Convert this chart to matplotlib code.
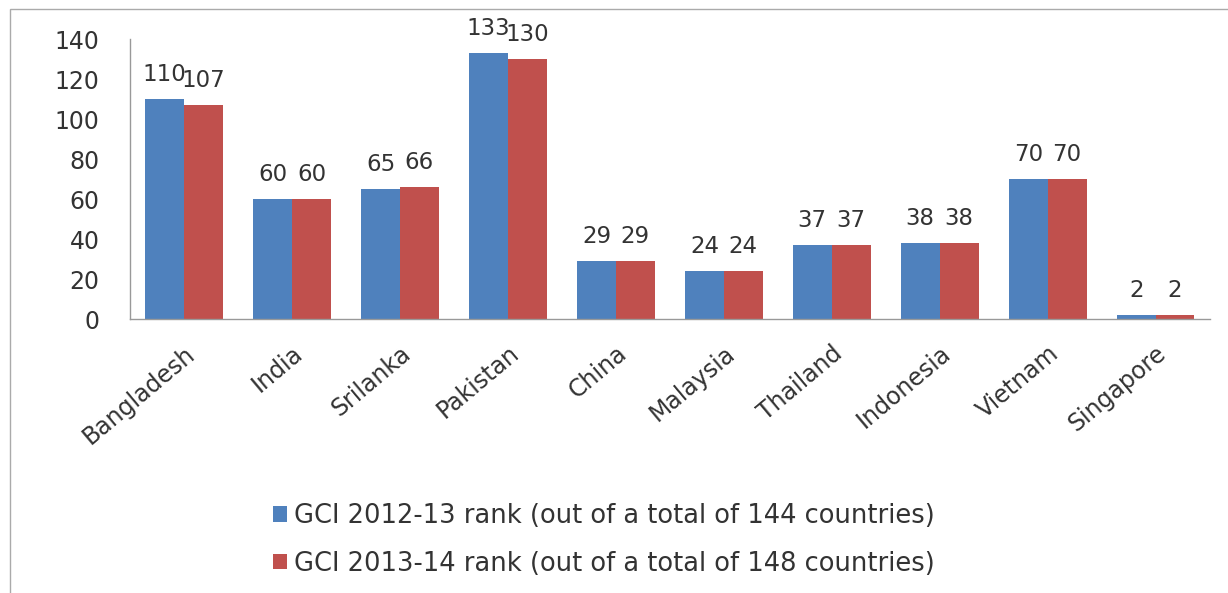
import matplotlib.pyplot as plt
import numpy as np
from matplotlib.patches import Rectangle

countries = ["Bangladesh", "India", "Srilanka", "Pakistan", "China",
             "Malaysia", "Thailand", "Indonesia", "Vietnam", "Singapore"]
rank_2012 = [110, 60, 65, 133, 29, 24, 37, 38, 70, 2]
rank_2013 = [107, 60, 66, 130, 29, 24, 37, 38, 70, 2]
series_names = ["GCI 2012-13 rank (out of a total of 144 countries)",
                "GCI 2013-14 rank (out of a total of 148 countries)"]
colors = ["#4F81BD", "#C0504D"]

plt.rcParams['font.family'] = ['DejaVu Sans']

fig = plt.figure(figsize=(12.28, 5.93), dpi=100)
ax = fig.add_axes([0.106, 0.462, 0.879, 0.472])

x = np.arange(len(countries))
w = 0.36
for vals, off, c, name in zip([rank_2012, rank_2013], [-w / 2, w / 2], colors, series_names):
    bars = ax.bar(x + off, vals, w, color=c, label=name)
    for b, v in zip(bars, vals):
        ax.annotate(str(v), (b.get_x() + b.get_width() / 2, v), xytext=(0, 13),
                    textcoords="offset points", ha="center", va="baseline",
                    fontsize=16.5, color="#333333")

ax.set_xlim(-0.5, len(countries) - 0.5)
ax.set_ylim(0, 140)
ax.set_yticks(range(0, 141, 20))
ax.tick_params(axis="y", length=0, labelsize=17, pad=22, labelcolor="#333333")
ax.tick_params(axis="x", length=0, labelsize=17, pad=16, labelcolor="#333333")
ax.set_xticks(x)
ax.set_xticklabels(countries, rotation=40, ha="right", rotation_mode="anchor")
for s in ["top", "right"]:
    ax.spines[s].set_visible(False)
for s in ["left", "bottom"]:
    ax.spines[s].set_color("#999999")
    ax.spines[s].set_linewidth(1)

leg = fig.legend(loc="upper left", bbox_to_anchor=(0.222, 0.152), ncol=1, frameon=False,
                 fontsize=18.5, handlelength=0.55, handleheight=0.55, handletextpad=0.3,
                 labelspacing=0.85, borderaxespad=0, borderpad=0)
for t in leg.get_texts():
    t.set_color("#333333")

fig.patches.append(Rectangle((0.008, -0.01), 1.1, 0.994, transform=fig.transFigure,
                             fill=False, edgecolor="#aaaaaa", linewidth=1))

fig.savefig("out.png", dpi=100)
